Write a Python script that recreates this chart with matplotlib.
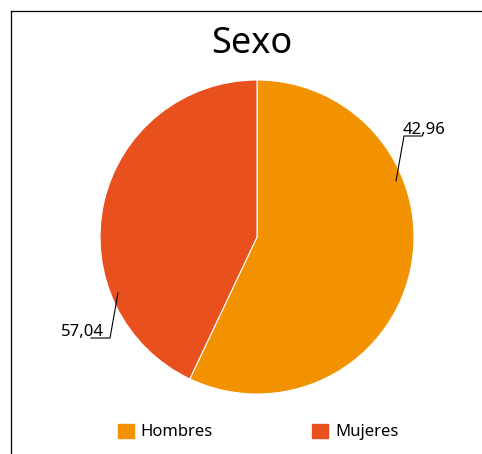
import matplotlib
matplotlib.use("Agg")
import matplotlib.pyplot as plt
from matplotlib.lines import Line2D
from matplotlib.patches import Patch

categories = ["Hombres", "Mujeres"]
shares = [57.04, 42.96]
label_texts = ["42,96", "57,04"]
colors = ["#F39200", "#E8501E"]

W, H = 482, 454
CX, CY, R = 257, 237, 157

plt.rcParams['font.family'] = ['Noto Sans', 'DejaVu Sans']

fig = plt.figure(figsize=(W / 100, H / 100), dpi=100)
ax = fig.add_axes([(CX - R) / W, (H - CY - R) / H, 2 * R / W, 2 * R / H])
ax.pie(shares, colors=colors, startangle=90, counterclock=False,
       wedgeprops=dict(edgecolor="white", linewidth=0.8))
ax.set_xlim(-1, 1)
ax.set_ylim(-1, 1)
ax.set_aspect("equal")
ax.axis("off")


def px(x, y):
    # pixel position -> pie data units
    return (x - CX) / R, (CY - y) / R


# leader lines (pixel positions)
leaders = [
    [(396, 181), (404, 136), (422, 136)],
    [(118, 293), (110, 338), (91, 338)],
]
for pts in leaders:
    xs, ys = zip(*[px(*p) for p in pts])
    ax.plot(xs, ys, color="black", lw=0.8, clip_on=False)

tx, ty = px(403, 134)
ax.text(tx, ty, label_texts[0], fontsize=12, ha="left", va="baseline")
tx, ty = px(104, 336)
ax.text(tx, ty, label_texts[1], fontsize=12, ha="right", va="baseline")

fig.text(252 / W, 1 - 44 / H, "Sexo", fontsize=26, ha="center", va="center")

handles = [Patch(facecolor=c, edgecolor=c) for c in colors]
fig.legend(handles, categories, loc="center", bbox_to_anchor=(258 / W, 1 - 432 / H),
           ncol=2, frameon=False, fontsize=12, columnspacing=6.0,
           handlelength=0.95, handleheight=0.95, handletextpad=0.4)

# chart frame (left and top edges)
fig.add_artist(Line2D([10.5 / W, 10.5 / W], [0, 1 - 10.5 / H], color="black", lw=0.9))
fig.add_artist(Line2D([10.5 / W, 1], [1 - 10.5 / H, 1 - 10.5 / H], color="black", lw=0.9))

fig.savefig("out.png", dpi=100)
